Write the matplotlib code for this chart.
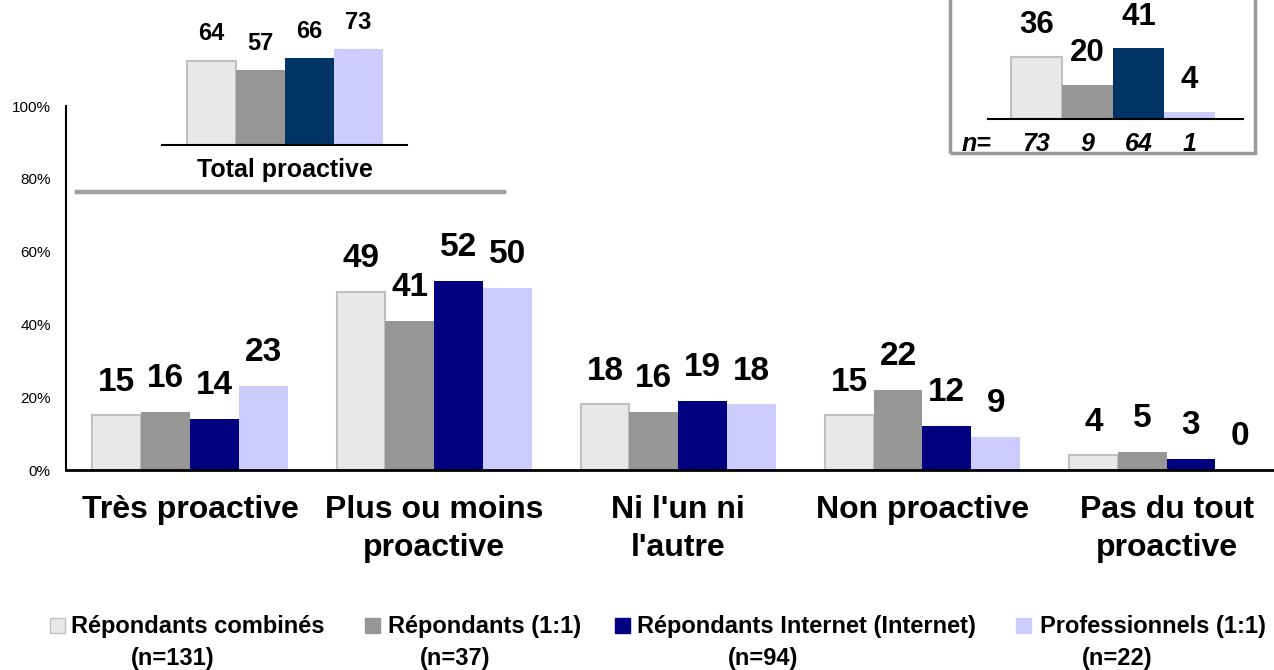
import matplotlib.pyplot as plt
from matplotlib.patches import Rectangle
import numpy as np

plt.rcParams['font.family'] = ['Liberation Sans', 'DejaVu Sans']

# -----------------------------
# Data
# -----------------------------
categories = ["Très proactive", "Plus ou moins\nproactive", "Ni l'un ni\nl'autre",
              "Non proactive", "Pas du tout\nproactive"]
series_names = ["Répondants combinés", "Répondants (1:1)",
                "Répondants Internet (Internet)", "Professionnels (1:1)"]
series_n = ["(n=131)", "(n=37)", "(n=94)", "(n=22)"]

combined = [15, 49, 18, 15, 4]
resp_11 = [16, 41, 16, 22, 5]
internet = [14, 52, 19, 12, 3]
pros_11 = [23, 50, 18, 9, 0]

total_proactive = [64, 57, 66, 73]

box_values = [36, 20, 41, 4]
box_n = ["73", "9", "64", "1"]

yticks = [0, 20, 40, 60, 80, 100]

colors = ["#E8E8E8", "#969696", "#000080", "#CCCCFF"]
inset_colors = ["#E8E8E8", "#969696", "#003366", "#CCCCFF"]
edge_light = "#C0C0C0"

W, H = 1274, 670


def fig_box(left, top, right, bottom):
    # pixel box (from top-left) -> figure fraction rect
    return [left / W, 1 - bottom / H, (right - left) / W, (bottom - top) / H]


def fx(x):
    return x / W


def fy(y):
    return 1 - y / H


fig = plt.figure(figsize=(12.74, 6.7), dpi=100)

# -----------------------------
# Main chart
# -----------------------------
ax = fig.add_axes(fig_box(66, 106, 1274, 470))
x = np.arange(len(categories))
bw = 0.2
all_series = [combined, resp_11, internet, pros_11]
for i, vals in enumerate(all_series):
    pos = x + (i - 1.5) * bw
    ax.bar(pos, vals, bw, color=colors[i],
           edgecolor=edge_light if i == 0 else colors[i],
           linewidth=1.5 if i == 0 else 0)
    for p, v in zip(pos, vals):
        ax.annotate(str(v), (p, v), xytext=(0, 24), textcoords="offset points",
                    ha="center", va="center", fontsize=24, fontweight="bold")

ax.set_xlim(-0.508, 4.44)
ax.set_ylim(0, 100)
ax.set_yticks(yticks)
ax.set_yticklabels([f"{t}%" for t in yticks], fontsize=11)
ax.set_xticks(x)
ax.set_xticklabels(categories, fontsize=23, fontweight="bold", linespacing=1.35)
ax.tick_params(axis="y", length=0, pad=11)
ax.tick_params(axis="x", length=0, pad=18)
for s in ["top", "right"]:
    ax.spines[s].set_visible(False)
ax.spines["left"].set_linewidth(1.5)
ax.spines["bottom"].set_linewidth(2)

# -----------------------------
# Inset: Total proactive
# -----------------------------
ax1 = fig.add_axes(fig_box(162, 40, 407, 145))
pos1 = np.arange(len(total_proactive))
for i, v in enumerate(total_proactive):
    ax1.bar(pos1[i], v, 1.0, color=inset_colors[i],
            edgecolor=edge_light if i == 0 else inset_colors[i],
            linewidth=1.5 if i == 0 else 0)
    ax1.annotate(str(v), (pos1[i], v), xytext=(0, 19.5), textcoords="offset points",
                 ha="center", va="center", fontsize=17, fontweight="bold",
                 annotation_clip=False)
ax1.set_xlim(-1, 4)
ax1.set_ylim(0, 80)
ax1.axis("off")
ax1.axhline(0, color="black", lw=1.5, clip_on=False)
fig.text(fx(285), fy(170), "Total proactive", ha="center", va="center",
         fontsize=18, fontweight="bold")
fig.add_artist(plt.Line2D([fx(77), fx(504)], [fy(192), fy(192)],
                          color="#A0A0A0", lw=3.2))

# -----------------------------
# Inset: boxed chart (top right)
# -----------------------------
fig.add_artist(Rectangle((fx(950), fy(153)), fx(1255) - fx(950), fy(-10) - fy(153),
                         transform=fig.transFigure, fill=False,
                         edgecolor="#999999", lw=2.5))
ax2 = fig.add_axes(fig_box(988, 33, 1243, 119))
pos2 = np.arange(len(box_values))
for i, v in enumerate(box_values):
    ax2.bar(pos2[i], v, 1.0, color=inset_colors[i],
            edgecolor=edge_light if i == 0 else inset_colors[i],
            linewidth=1.5 if i == 0 else 0)
    ax2.annotate(str(v), (pos2[i], v), xytext=(0, 23), textcoords="offset points",
                 ha="center", va="center", fontsize=22.5, fontweight="bold",
                 annotation_clip=False)
    ax2.text(pos2[i], -14.5, box_n[i], ha="center", va="center", fontsize=18,
             fontweight="bold", style="italic", clip_on=False)
ax2.text(-1.17, -14.5, "n=", ha="center", va="center", fontsize=18,
         fontweight="bold", style="italic", clip_on=False)
ax2.set_xlim(-0.95, 4.05)
ax2.set_ylim(0, 50)
ax2.axis("off")
ax2.axhline(0, color="black", lw=1.5, clip_on=False)

# -----------------------------
# Legend (manual, two lines per entry)
# -----------------------------
sq_left = [50, 365, 615, 1016]
txt_left = [71, 388, 637, 1040]
n_center = [173, 455, 763, 1117]
for i in range(len(series_names)):
    fig.add_artist(Rectangle((fx(sq_left[i]), fy(633)), 15 / W, 15 / H,
                             transform=fig.transFigure, facecolor=colors[i],
                             edgecolor=edge_light if i == 0 else colors[i], lw=1))
    fig.text(fx(txt_left[i]), fy(626), series_names[i], ha="left", va="center",
             fontsize=17, fontweight="bold")
    fig.text(fx(n_center[i]), fy(658), series_n[i], ha="center", va="center",
             fontsize=17, fontweight="bold")

fig.savefig("out.png", dpi=100)
